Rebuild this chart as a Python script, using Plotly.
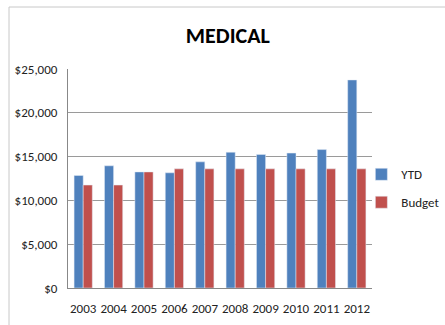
import plotly.graph_objects as go

years = ["2003", "2004", "2005", "2006", "2007", "2008", "2009", "2010", "2011", "2012"]
ytd = [12850, 13950, 13250, 13150, 14400, 15500, 15250, 15400, 15800, 23750]
budget = [11750, 11750, 13250, 13600, 13600, 13600, 13600, 13600, 13600, 13600]
y_ticks = [0, 5000, 10000, 15000, 20000, 25000]
y_labels = ["$0", "$5,000", "$10,000", "$15,000", "$20,000", "$25,000"]

FONT = "Carlito, Lato, sans-serif"

fig = go.Figure()
fig.add_trace(go.Bar(name="YTD", x=years, y=ytd, marker_color="#4F81BD", legendgroup="ytd"))
fig.add_trace(go.Bar(name="Budget", x=years, y=budget, marker_color="#C0504D", legendgroup="budget"))

fig.update_layout(
    width=445, height=325,
    margin=dict(l=68, r=73, t=69, b=37, autoexpand=False),
    paper_bgcolor="white", plot_bgcolor="white",
    barmode="group", bargap=0.4, bargroupgap=0,
    title=dict(text="<b>MEDICAL</b>", x=0.512, xanchor="center", y=0.89, yanchor="middle",
               font=dict(family=FONT, size=22, color="black")),
    font=dict(family=FONT, size=13, color="#222"),
    showlegend=True,
    legend=dict(x=0.965, y=0.455, xanchor="left", yanchor="middle",
                font=dict(family=FONT, size=13, color="#222"),
                itemwidth=30, tracegroupgap=8, bgcolor="rgba(0,0,0,0)"),
    xaxis=dict(showline=True, linecolor="#888", linewidth=1, ticks="", showgrid=False,
               tickangle=0, ticklabelstandoff=8,
               tickfont=dict(family=FONT, size=13, color="#222")),
    yaxis=dict(range=[0, 25000], tickvals=y_ticks, ticktext=y_labels,
               showline=True, linecolor="#888", linewidth=1,
               showgrid=True, gridcolor="#9a9a9a", gridwidth=1,
               ticks="", ticklen=0, zeroline=False, ticklabelstandoff=7,
               tickfont=dict(family=FONT, size=13, color="#222")),
    shapes=[dict(type="rect", xref="paper", yref="paper",
                 x0=(9 - 68) / 304, x1=1.5, y0=-0.5, y1=(288 - 7) / 219,
                 line=dict(color="#c8c8c8", width=1), fillcolor="rgba(0,0,0,0)", layer="below")],
)

fig.write_html("out.html")
